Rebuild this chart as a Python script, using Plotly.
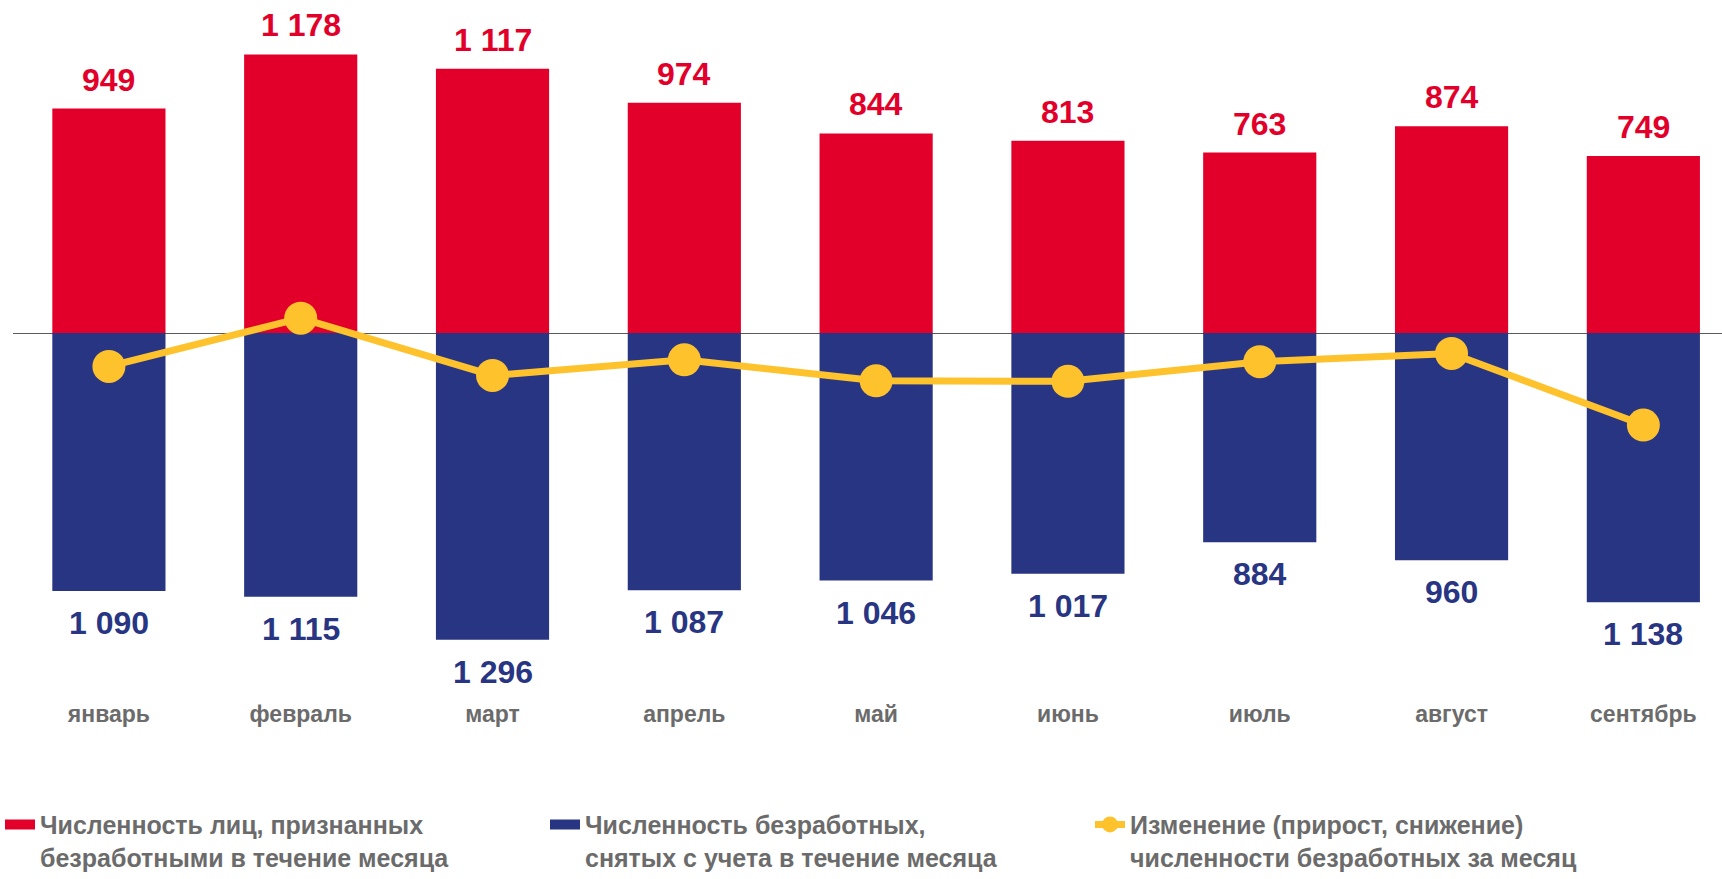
import plotly.graph_objects as go

months = ["январь", "февраль", "март", "апрель", "май", "июнь", "июль", "август", "сентябрь"]
recognized = [949, 1178, 1117, 974, 844, 813, 763, 874, 749]
removed = [1090, 1115, 1296, 1087, 1046, 1017, 884, 960, 1138]
change = [-141, 63, -179, -113, -202, -204, -121, -86, -389]

RED = "#E2002A"
BLUE = "#283583"
YELLOW = "#FEC22D"
GRAY = "#6B6B6B"
FONT = "Liberation Sans, Arial, sans-serif"

name_red = "Численность лиц, признанных<br>безработными в течение месяца"
name_blue = "Численность безработных,<br>снятых с учета в течение месяца"
name_line = "Изменение (прирост, снижение)<br>численности безработных за месяц"

fig = go.Figure()
fig.add_trace(go.Bar(x=months, y=recognized, name=name_red, legendgroup="red", showlegend=False,
                     marker=dict(color=RED, line=dict(width=0))))
fig.add_trace(go.Bar(x=months, y=[-v for v in removed], name=name_blue, legendgroup="blue", showlegend=False,
                     marker=dict(color=BLUE, line=dict(width=0))))
fig.add_trace(go.Scatter(x=months, y=change, name=name_line, mode="lines+markers",
                         line=dict(color=YELLOW, width=7), marker=dict(color=YELLOW, size=33),
                         legendrank=3))
# legend swatches for the bar series (wide rectangles as in the original)
fig.add_trace(go.Scatter(x=[None], y=[None], mode="lines", name=name_red, legendgroup="red",
                         line=dict(color=RED, width=14), legendrank=1, hoverinfo="skip"))
fig.add_trace(go.Scatter(x=[None], y=[None], mode="lines", name=name_blue, legendgroup="blue",
                         line=dict(color=BLUE, width=14), legendrank=2, hoverinfo="skip"))

for m, v in zip(months, recognized):
    fig.add_annotation(x=m, y=v, text=f"{v:,}".replace(",", " "), showarrow=False,
                       yanchor="middle", yshift=29,
                       font=dict(family=FONT, size=32, color=RED, weight="bold"))
for m, v in zip(months, removed):
    fig.add_annotation(x=m, y=-v, text=f"{v:,}".replace(",", " "), showarrow=False,
                       yanchor="middle", yshift=-32,
                       font=dict(family=FONT, size=32, color=BLUE, weight="bold"))

fig.update_layout(
    width=1722, height=879,
    margin=dict(l=13, r=0, t=0, b=184),
    paper_bgcolor="white", plot_bgcolor="white",
    barmode="relative", bargap=0.41,
    font=dict(family=FONT, color=GRAY),
    xaxis=dict(range=[-0.5, 8.41], showgrid=False, showline=False, ticks="",
               tickfont=dict(family=FONT, size=23, color=GRAY, weight="bold"),
               ticklabelstandoff=3, fixedrange=True),
    yaxis=dict(range=[-1530, 1408], showgrid=False, showticklabels=False, fixedrange=True,
               zeroline=True, zerolinecolor="#5A5A5A", zerolinewidth=1.3),
    legend=dict(orientation="h", yref="container", xref="container", x=-0.004, y=0.088,
                xanchor="left", yanchor="top", valign="top",
                entrywidth=500, itemwidth=30,
                font=dict(family=FONT, size=25, color=GRAY, weight="bold"),
                traceorder="normal"),
    showlegend=True,
)

fig.write_html("out.html", config={"displayModeBar": False},
               post_script="document.body.style.margin='0';")
